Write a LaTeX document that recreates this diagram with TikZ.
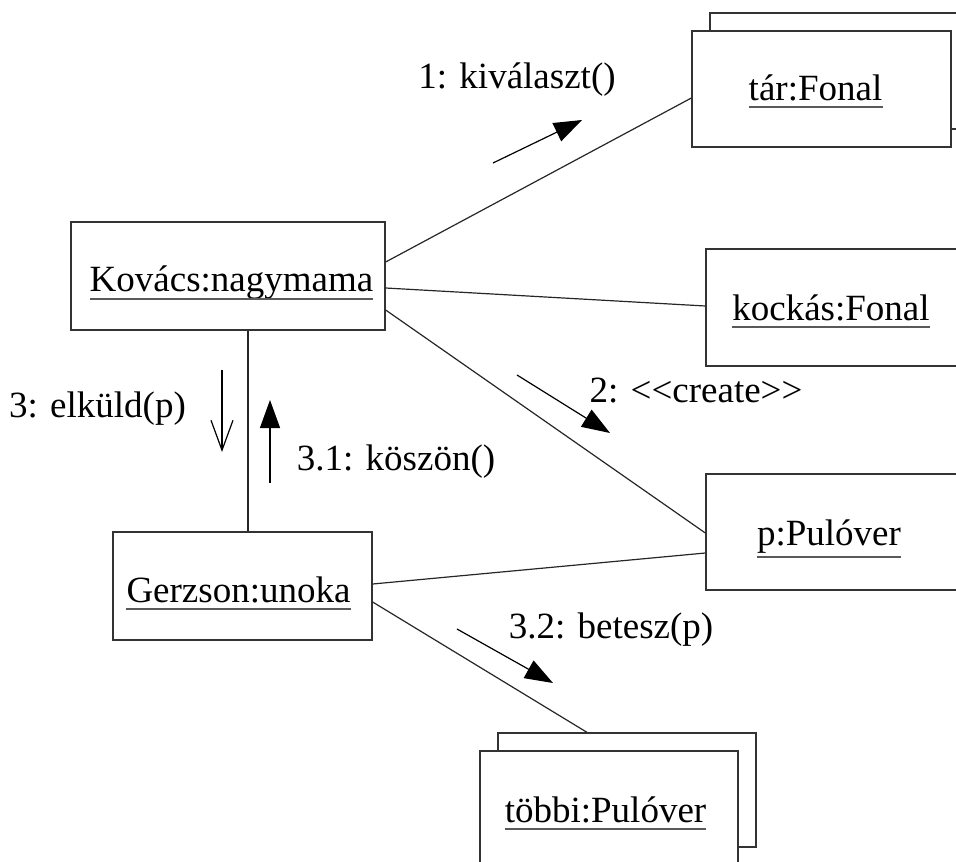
\documentclass[tikz,border=0pt]{standalone}
\usepackage{fontspec}
\setmainfont{Liberation Serif}
\usetikzlibrary{arrows.meta,calc}
\begin{document}
\begin{tikzpicture}[x=1pt,y=-1pt,
  obj/.style={draw=black!80, line width=1.3pt, fill=white, rectangle, inner sep=0pt},
  lbl/.style={font=\fontsize{37}{40}\selectfont, inner sep=0pt, anchor=base},
  link/.style={draw=black!85, line width=1.2pt},
  uline/.style={draw=black!65, line width=1.8pt},
  msg/.style={draw=black, line width=1.2pt, -{Triangle[length=28pt,width=20pt]}},
  amsg/.style={draw=black, line width=1.2pt, -{Straight Barb[length=30pt,width=22pt]}}]
\useasboundingbox (0,0) rectangle (956,862);
\clip (0,0) rectangle (956,862);

% objects
\node[obj, minimum width=259pt, minimum height=116pt] (tarb) at (839.5,71) {};
\node[obj, minimum width=259pt, minimum height=116pt] (tar) at (821.5,89) {};
\node[obj, minimum width=314pt, minimum height=108pt] (kov) at (228,276) {};
\node[obj, minimum width=260pt, minimum height=117pt] (kock) at (836,307.5) {};
\node[obj, minimum width=260pt, minimum height=116pt] (pul) at (836,532) {};
\node[obj, minimum width=259pt, minimum height=108pt] (ger) at (242.5,586) {};
\node[obj, minimum width=258pt, minimum height=114pt] (tobbib) at (627,790) {};
\node[obj, minimum width=258pt, minimum height=114pt] (tobbi) at (609,808) {};

% object labels
\node[lbl] (tart) at (815.5,100) {tár:Fonal};
\node[lbl] (kovt) at (231.5,291) {Kovács:nagymama};
\node[lbl] (kockt) at (831,320) {kockás:Fonal};
\node[lbl] (pult) at (829,545) {p:Pulóver};
\node[lbl] (gert) at (238.5,602) {Gerzson:unoka};
\node[lbl] (tobbit) at (605.5,822) {többi:Pulóver};

\foreach \n/\d in {tart/7, kovt/8, kockt/7, pult/12, gert/7, tobbit/7}{
  \draw[uline] ([yshift=-\d pt]\n.base west) -- ([yshift=-\d pt]\n.base east);
}

% links
\draw[link] ([yshift=14pt]kov.east) -- ([yshift=-9pt]tar.west);
\draw[link] ([yshift=-12pt]kov.east) -- ([yshift=1.5pt]kock.west);
\draw[link] ([yshift=-34pt]kov.east) -- ([yshift=-1pt]pul.west);
\draw[link] ([yshift=2pt]ger.east) -- ([yshift=-21pt]pul.west);
\draw[link] ([yshift=-16pt]ger.east) -- ([xshift=-40pt]tobbib.north);
\draw[link] ([xshift=20pt]kov.south) -- ([xshift=5.5pt]ger.north);

% messages
\coordinate (m1s) at (493,163); \coordinate (m1e) at (582,120);
\coordinate (m2s) at (517,375); \coordinate (m2e) at (610,433);
\coordinate (m32s) at (457,629); \coordinate (m32e) at (553,683);
\coordinate (m3s) at (222,370); \coordinate (m3e) at (222,452);
\coordinate (m31s) at (270,483); \coordinate (m31e) at (270,400);
\draw[msg] (m1s) -- (m1e);
\draw[msg] (m2s) -- (m2e);
\draw[msg] (m32s) -- (m32e);
\draw[amsg] (m3s) -- (m3e);
\draw[msg] (m31s) -- (m31e);

\node[lbl] (l1) at (517,88) {1: kiválaszt()};
\node[lbl] (l2) at (696,402) {2: <{}<create>{}>};
\node[lbl] (l32) at (611,638) {3.2: betesz(p)};
\node[lbl] (l3) at (97.5,417) {3: elküld(p)};
\node[lbl] (l31) at (396,470) {3.1: köszön()};
\end{tikzpicture}
\end{document}
